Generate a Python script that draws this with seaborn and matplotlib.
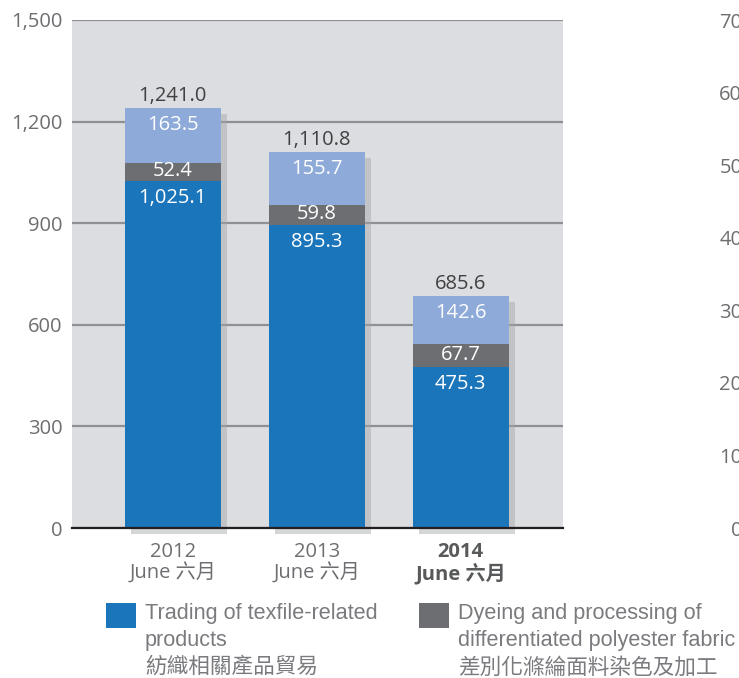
import matplotlib
matplotlib.use("Agg")
import matplotlib.pyplot as plt
import matplotlib.patheffects as pe
import seaborn as sns
import pandas as pd

# data (HK$ million)
years = ["2012", "2013", "2014"]
tick_labels = ["2012\nJune 六月", "2013\nJune 六月", "2014\nJune 六月"]
trading = [1025.1, 895.3, 475.3]
dyeing = [52.4, 59.8, 67.7]
other = [163.5, 155.7, 142.6]
totals = [1241.0, 1110.8, 685.6]
right_ticks = [0, 10, 20, 30, 40, 50, 60, 70]

legend_labels = [
    "Trading of texfile-related\nproducts\n紡織相關產品貿易",
    "Dyeing and processing of\ndifferentiated polyester fabric\n差別化滌綸面料染色及加工",
]

BLUE = "#1b75bb"
GREY = "#6d6e71"
LIGHT = "#8eaad9"
BG = "#dcdde0"
TXT = "#6d6e71"
FS = 14.5

df = pd.DataFrame({"year": years, "trading": trading, "dyeing": dyeing,
                   "other": other, "total": totals})
df["mid"] = df["trading"] + df["dyeing"]

sns.set_style("white")
plt.rcParams["font.family"] = ["Open Sans", "Noto Sans CJK TC", "DejaVu Sans"]

fig = plt.figure(figsize=(7.39, 6.78), dpi=100)
ax = fig.add_axes([72 / 739, 1 - 528 / 678, (563 - 72) / 739, 508 / 678])
ax.set_facecolor(BG)

w = 0.667
# full height bars first (top segment colour) with the drop shadow
sns.barplot(data=df, x="year", y="total", color=LIGHT, width=w, saturation=1, linewidth=0, ax=ax)
for p in ax.patches:
    p.set_path_effects([pe.SimplePatchShadow(offset=(4.5, -4.5), shadow_rgbFace="#a3a4a8", alpha=0.45),
                        pe.Normal()])
    p.set_clip_on(False)
n0 = len(ax.patches)
sns.barplot(data=df, x="year", y="mid", color=GREY, width=w, saturation=1, linewidth=0, ax=ax)
sns.barplot(data=df, x="year", y="trading", color=BLUE, width=w, saturation=1, linewidth=0, ax=ax)

ax.set_xlim(-0.70, 2.71)
ax.set_ylim(0, 1500)
ax.set_yticks(range(0, 1501, 300))
ax.set_yticklabels([f"{v:,}" for v in range(0, 1501, 300)])
ax.yaxis.grid(True, color="#8f9094", lw=1.6)
ax.set_axisbelow(True)
for s in ["left", "right", "top"]:
    ax.spines[s].set_visible(False)
ax.spines["bottom"].set_color("#231f20")
ax.spines["bottom"].set_linewidth(1.6)
ax.spines["bottom"].set_zorder(5)
ax.tick_params(axis="y", length=0, pad=7, labelsize=FS, labelcolor=TXT)
ax.tick_params(axis="x", length=0, pad=10, labelsize=FS, labelcolor=TXT)
ax.set_xticks(range(3))
ax.set_xticklabels(tick_labels, linespacing=1.05)
lab = ax.get_xticklabels()[2]
lab.set_fontweight("bold")
lab.set_color("#58595b")
ax.set_xlabel("")
ax.set_ylabel("")

# value labels
for i in range(3):
    ax.annotate(f"{totals[i]:,.1f}", (i, totals[i]), xytext=(0, 8.5), textcoords="offset points",
                ha="center", va="center", fontsize=FS, color="#414042")
    ax.annotate(f"{other[i]:,.1f}", (i, totals[i]), xytext=(0, -12.5), textcoords="offset points",
                ha="center", va="center", fontsize=FS, color="white")
    ax.annotate(f"{dyeing[i]:,.1f}", (i, trading[i] + dyeing[i] / 2), xytext=(0, 0.5),
                textcoords="offset points", ha="center", va="center", fontsize=FS, color="white")
    ax.annotate(f"{trading[i]:,.1f}", (i, trading[i]), xytext=(0, -12.5), textcoords="offset points",
                ha="center", va="center", fontsize=FS, color="white")

# legend
handles = [ax.patches[-1], ax.patches[n0]]
leg = fig.legend(handles, legend_labels, loc="upper left", bbox_to_anchor=(106 / 739, 1 - 603 / 678),
                 ncol=2, frameon=False, handlelength=1.4, handleheight=1.4, handletextpad=0.4,
                 columnspacing=1.9, borderaxespad=0, borderpad=0,
                 prop={"family": ["Liberation Sans", "Noto Sans CJK TC"], "size": 15.6},
                 labelspacing=0.3)
for t in leg.get_texts():
    t.set_color("#7a7b7e")
    t.set_linespacing(1.38)
for col in leg._legend_handle_box.get_children():
    for row in col.get_children():
        row.align = "top"

# second chart, mostly outside the canvas
ax2 = fig.add_axes([752 / 739, 1 - 528 / 678, 0.3, 508 / 678])
ax2.set_ylim(0, 70)
ax2.set_yticks(right_ticks)
ax2.set_xticks([])
ax2.patch.set_alpha(0)
for s in ax2.spines.values():
    s.set_visible(False)
ax2.tick_params(axis="y", length=0, pad=7, labelsize=FS, labelcolor=TXT)

fig.savefig("out.png", dpi=100)
